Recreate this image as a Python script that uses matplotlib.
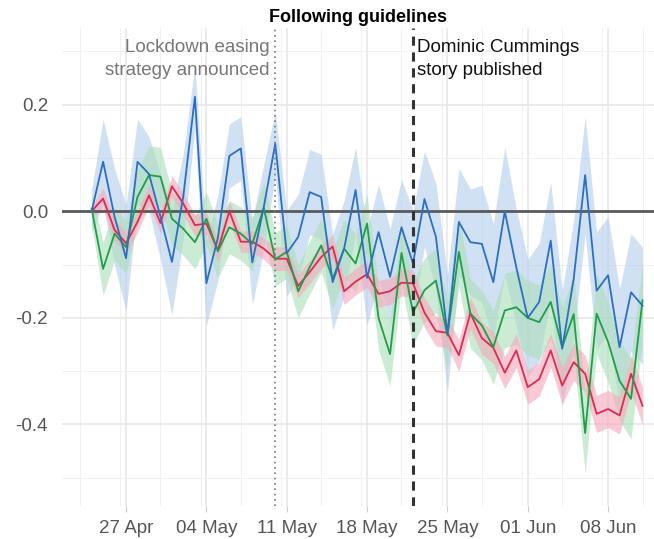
import numpy as np
import pandas as pd
import matplotlib
matplotlib.use("Agg")
import matplotlib.pyplot as plt
import matplotlib.dates as mdates
from matplotlib.ticker import FuncFormatter, MultipleLocator

plt.rcParams['font.family'] = ['Liberation Sans', 'DejaVu Sans']

# daily estimates, 24 Apr - 11 Jun
dates = pd.date_range("2020-04-24", periods=49, freq="D")

blue = [0.0, 0.093, -0.01, -0.088, 0.093, 0.07, -0.01, -0.095, 0.03, 0.215,
        -0.135, -0.05, 0.104, 0.118, -0.096, 0.008, 0.127, -0.079, -0.048, 0.036,
        0.027, -0.133, -0.07, 0.04, -0.125, -0.039, -0.123, -0.03, -0.098, 0.023,
        -0.048, -0.23, -0.02, -0.058, -0.061, -0.133, 0.0, -0.105, -0.2, -0.17,
        -0.055, -0.258, -0.127, 0.068, -0.149, -0.12, -0.255, -0.152, -0.177]
blue_hw = [0.04, 0.08, 0.09, 0.10, 0.08, 0.07, 0.08, 0.10, 0.08, 0.06,
           0.08, 0.08, 0.06, 0.06, 0.08, 0.08, 0.06, 0.08, 0.08, 0.08,
           0.08, 0.09, 0.09, 0.08, 0.09, 0.09, 0.09, 0.09, 0.10, 0.09,
           0.10, 0.11, 0.10, 0.10, 0.11, 0.11, 0.12, 0.11, 0.11, 0.11,
           0.11, 0.11, 0.11, 0.11, 0.11, 0.11, 0.11, 0.11, 0.11]

green = [0.005, -0.108, -0.042, -0.067, 0.027, 0.068, 0.065, -0.014, -0.033, -0.058,
         -0.014, -0.075, -0.03, -0.042, -0.061, 0.006, -0.09, -0.076, -0.15, -0.105,
         -0.064, -0.127, -0.07, -0.098, -0.023, -0.2, -0.268, -0.078, -0.19, -0.148,
         -0.13, -0.233, -0.076, -0.192, -0.214, -0.255, -0.186, -0.18, -0.2, -0.208,
         -0.17, -0.255, -0.193, -0.416, -0.192, -0.245, -0.318, -0.352, -0.167]
green_hw = [0.03, 0.05, 0.05, 0.05, 0.05, 0.055, 0.055, 0.05, 0.05, 0.05,
            0.05, 0.05, 0.05, 0.05, 0.05, 0.05, 0.05, 0.05, 0.05, 0.05,
            0.05, 0.055, 0.055, 0.055, 0.055, 0.06, 0.06, 0.06, 0.06, 0.06,
            0.06, 0.065, 0.065, 0.065, 0.065, 0.07, 0.07, 0.07, 0.07, 0.07,
            0.07, 0.075, 0.075, 0.075, 0.075, 0.075, 0.075, 0.075, 0.075]

red = [0.0, 0.024, -0.035, -0.06, -0.02, 0.03, -0.022, 0.047, 0.014, -0.026,
       -0.023, -0.073, 0.0, -0.057, -0.057, -0.07, -0.089, -0.089, -0.14, -0.114,
       -0.086, -0.066, -0.15, -0.132, -0.118, -0.155, -0.15, -0.134, -0.135, -0.19,
       -0.225, -0.228, -0.27, -0.191, -0.238, -0.256, -0.303, -0.261, -0.33, -0.315,
       -0.261, -0.327, -0.283, -0.305, -0.38, -0.371, -0.383, -0.305, -0.365]
red_hw = [0.01, 0.02, 0.02, 0.02, 0.02, 0.02, 0.02, 0.02, 0.02, 0.02,
          0.02, 0.02, 0.02, 0.02, 0.02, 0.02, 0.022, 0.022, 0.022, 0.022,
          0.022, 0.022, 0.025, 0.025, 0.025, 0.025, 0.025, 0.025, 0.025, 0.028,
          0.028, 0.028, 0.03, 0.03, 0.03, 0.03, 0.03, 0.032, 0.032, 0.032,
          0.032, 0.035, 0.035, 0.035, 0.035, 0.035, 0.035, 0.035, 0.035]

easing_date = pd.Timestamp("2020-05-10")
cummings_date = pd.Timestamp("2020-05-22")
week_ticks = pd.date_range("2020-04-27", periods=7, freq="7D")

series = [
    (blue, blue_hw, "#2b6fc0", "#b3cdee"),
    (green, green_hw, "#1f9e4a", "#abdfb8"),
    (red, red_hw, "#dc2a50", "#f5a8ba"),
]

fig = plt.figure(figsize=(6.54, 5.39), dpi=100)
ax = fig.add_axes([62 / 654, 1 - 506 / 539, 1 - 62 / 654, (506 - 28) / 539])

x = mdates.date2num(dates)
for vals, hw, lc, fc in series:
    v = np.array(vals)
    h = np.array(hw)
    ax.fill_between(x, v - h, v + h, color=fc, alpha=0.6, lw=0, zorder=2)

ax.axhline(0, color="#5a5a5a", lw=2.0, zorder=3)

for vals, hw, lc, fc in series[::-1]:
    ax.plot(x, vals, color=lc, lw=1.3, zorder=4)

ax.axvline(mdates.date2num(easing_date), color="#777777", lw=1.2,
           linestyle=(0, (1, 2.2)), zorder=5)
ax.axvline(mdates.date2num(cummings_date), color="#333333", lw=2.2,
           linestyle=(0, (3, 2.2)), zorder=5)

ax.text(mdates.date2num(easing_date) - 0.5, 0.286, "Lockdown easing\nstrategy announced",
        ha="right", va="center", fontsize=13.5, color="#777777", linespacing=1.45)
ax.text(mdates.date2num(cummings_date) + 0.35, 0.286, "Dominic Cummings\nstory published",
        ha="left", va="center", fontsize=13.5, color="#111111", linespacing=1.45)

x0 = mdates.date2num(dates[0])
ax.set_xlim(x0 - 2.58, x0 + 49.0)
ax.set_ylim(-0.553, 0.344)

ax.set_xticks(mdates.date2num(week_ticks))
ax.xaxis.set_major_formatter(mdates.DateFormatter("%d %b"))
ax.xaxis.set_minor_locator(MultipleLocator(3.5))
ax.set_yticks([-0.4, -0.2, 0.0, 0.2])
ax.yaxis.set_minor_locator(MultipleLocator(0.1))
ax.yaxis.set_major_formatter(FuncFormatter(lambda v, p: f"{v:.1f}"))

ax.grid(which="major", color="#e6e6e6", lw=1.1, zorder=0)
ax.grid(which="minor", color="#f1f1f1", lw=0.7, zorder=0)
ax.set_axisbelow(True)
for s in ax.spines.values():
    s.set_visible(False)
ax.tick_params(axis="x", which="major", length=4, color="#cccccc",
               labelsize=13.5, labelcolor="#555555", pad=6)
ax.tick_params(axis="y", which="major", length=0, labelsize=13.5,
               labelcolor="#555555", pad=10)
ax.tick_params(which="minor", length=0)

ax.set_title("Following guidelines", fontsize=13, fontweight="bold", pad=4)

fig.savefig("out.png", dpi=100)
